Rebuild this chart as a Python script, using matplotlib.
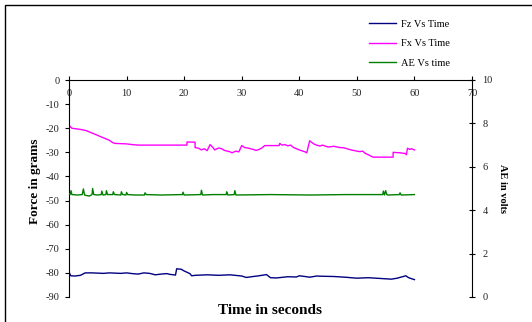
import matplotlib
matplotlib.use("Agg")
from matplotlib import pyplot as plt
from matplotlib.patches import Rectangle

plt.rcParams['font.family'] = ['Liberation Serif', 'DejaVu Serif']
plt.rcParams['axes.unicode_minus'] = False

# Fz (grams) vs time
fz_t = [0, 0.3, 1, 2, 2.8, 4, 6, 7, 9, 10, 11, 12, 13, 14, 15, 16, 17, 17.5, 18.5, 18.7, 19.5, 20, 21, 21.3,
        22, 24, 26, 28, 30, 30.8, 32, 33, 34.3, 35, 36, 38, 39.5, 40, 41, 41.8, 43, 44, 46, 48, 50, 52, 54,
        56, 57, 58.5, 59, 60]
fz_v = [-79.6, -81.2, -81.3, -81, -80, -80, -80.2, -80, -80.2, -80, -80.3, -80.5, -80, -80.2, -80.8, -80.5,
        -80.3, -80.6, -80.9, -78.3, -78.5, -79.2, -80.3, -81.2, -81, -80.8, -81, -80.8, -81.3, -81.9, -81.5,
        -81.2, -80.7, -82, -82.1, -81.6, -81.7, -81.2, -81.5, -81.8, -81.3, -81.4, -81.5, -81.8, -82.2, -82,
        -82.3, -82.6, -82.2, -81.2, -82, -82.8]

# Fx (grams) vs time
fx_t = [0, 0.3, 0.5, 2, 3, 4, 5, 6, 7, 7.6, 8, 10, 11, 12, 16, 20.5, 20.5, 21.9, 21.9, 22.5, 23, 23.5, 24,
        24.5, 25, 25.3, 26, 26.5, 27, 28, 28.3, 29, 29.5, 30, 30.5, 31, 32, 32.5, 33, 33.5, 34, 36.5, 36.6,
        37, 37.5, 38, 38.5, 39, 40, 41, 41.3, 41.8, 42.5, 43, 43.6, 44, 45, 46, 47, 47.6, 48, 49, 50, 50.5,
        51, 51.5, 52, 52.8, 56.3, 56.3, 57.5, 58.5, 58.6, 58.8, 59.2, 59.5, 60]
fx_v = [-18.8, -19.5, -20, -20.5, -21, -22, -23, -24, -25, -26, -26.3, -26.5, -26.8, -27, -27, -27, -25.7,
        -25.8, -28, -28.3, -29, -28.5, -29.3, -26.8, -28, -29, -28.2, -28.5, -29.2, -29.8, -30.2, -29.5,
        -29.8, -27.2, -28, -28.2, -28.8, -29.2, -28.8, -28.2, -27.2, -27.2, -26.3, -27, -26.8, -27.3, -27,
        -28, -29, -29.8, -30.2, -25.2, -26.5, -27, -27.4, -27, -27.8, -27.5, -28, -28.1, -28.3, -29, -29.5,
        -29.7, -29.5, -30.5, -31, -32, -32, -30, -30.2, -30.5, -31, -28.3, -28.8, -28.5, -29]

# AE (volts) vs time
ae_t = [0, 0.2, 0.35, 0.5, 1.5, 2.3, 2.5, 2.7, 3.5, 4.0, 4.1, 4.3, 5.0, 5.6, 5.7, 5.9, 6.4, 6.5, 6.7, 7.6,
        7.7, 7.9, 9.0, 9.1, 9.3, 9.9, 10, 10.2, 11.5, 13.1, 13.2, 13.4, 16, 19.7, 19.8, 20, 22.9, 23, 23.2,
        25, 27.3, 27.4, 27.6, 28.7, 28.8, 29, 35, 42, 48, 54.5, 54.6, 54.8, 55.0, 55.2, 55.4, 57.4, 57.5,
        57.7, 60]
ae_v = [4.75, 4.72, 4.9, 4.72, 4.7, 4.72, 4.98, 4.7, 4.65, 4.72, 5.0, 4.72, 4.7, 4.72, 4.88, 4.7, 4.72,
        4.9, 4.72, 4.72, 4.85, 4.72, 4.7, 4.85, 4.72, 4.7, 4.82, 4.72, 4.7, 4.7, 4.8, 4.72, 4.7, 4.72, 4.83,
        4.7, 4.72, 4.92, 4.7, 4.72, 4.72, 4.85, 4.7, 4.72, 4.9, 4.7, 4.72, 4.7, 4.72, 4.72, 4.88, 4.7, 4.9,
        4.72, 4.7, 4.72, 4.8, 4.7, 4.72]

fig = plt.figure(figsize=(5.32, 3.22), dpi=100)
fig.patches.append(Rectangle((5 / 532, -0.1), 1.2, 1 - 5 / 322 + 0.1, transform=fig.transFigure,
                             fill=False, edgecolor='black', linewidth=1.0))
ax = fig.add_axes([69 / 532, 1 - 297 / 322, (472 - 69) / 532, (297 - 80) / 322])
ax2 = ax.twinx()

l1, = ax.plot(fz_t, fz_v, color='#000080', linewidth=1.0, label='Fz Vs Time')
l2, = ax.plot(fx_t, fx_v, color='#FF00FF', linewidth=1.0, label='Fx Vs Time')
l3, = ax2.plot(ae_t, ae_v, color='#008000', linewidth=1.0, label='AE Vs time')

ax.set_xlim(0, 70)
ax.set_ylim(-90, 0)
ax2.set_ylim(0, 10)
ax.set_xticks(range(0, 71, 10))
ax.set_yticks(range(-90, 1, 10))
ax2.set_yticks(range(0, 11, 2))

for a in (ax, ax2):
    a.spines['bottom'].set_visible(False)
    a.patch.set_visible(False)
ax2.spines['top'].set_visible(False)
ax.spines['right'].set_visible(False)
ax2.spines['left'].set_visible(False)

# x axis sits on the top spine, labels hang below it
ax.xaxis.set_ticks_position('top')
ax.tick_params(axis='x', direction='out', length=3, labeltop=False, labelbottom=False)
for x in range(0, 71, 10):
    ax.text(x, -5.4, str(x), ha='center', va='center', fontsize=7.5, color='#222222')
ax.tick_params(axis='y', direction='out', length=3, pad=4, labelsize=7.5, labelcolor='#222222')
ax2.tick_params(axis='y', direction='inout', length=5, pad=5, labelsize=7.5, labelcolor='#222222')

fig.text(35 / 532, 1 - 181 / 322, 'Force in grams', ha='center', va='center', rotation=90,
         fontsize=9.5, fontweight='bold')
ax2.set_ylabel('AE in volts', fontsize=7.5, fontweight='bold', rotation=-90, labelpad=10)
fig.text(270 / 532, 1 - 310 / 322, 'Time in seconds', ha='center', va='center',
         fontsize=11, fontweight='bold')

fig.legend(handles=[l1, l2, l3], loc='upper left', bbox_to_anchor=(360 / 532, 1 - 10 / 322),
           frameon=False, fontsize=7.5, handlelength=2.6, handletextpad=0.4, labelspacing=1.0)

fig.savefig('out.png', dpi=100)
